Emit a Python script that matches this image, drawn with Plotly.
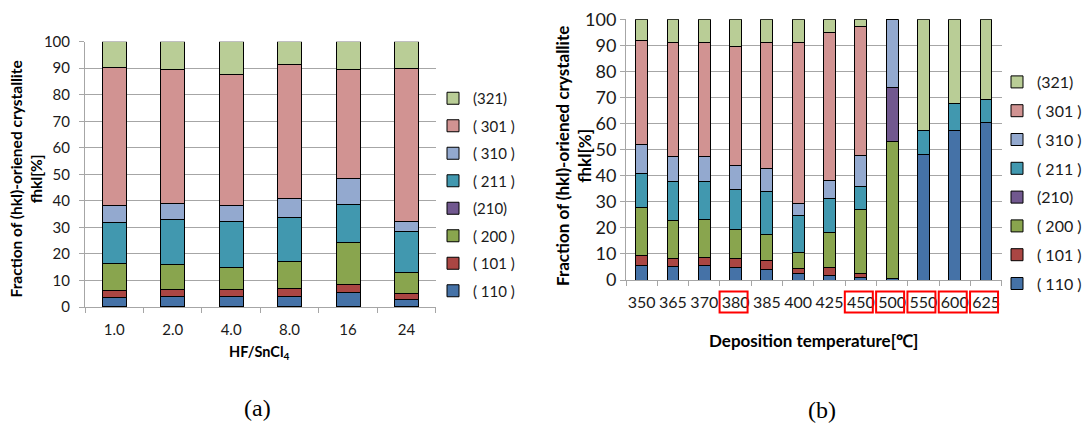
import plotly.graph_objects as go

# ---- data -------------------------------------------------------------
series_names = ["( 110 )", "( 101 )", "( 200 )", "(210)", "( 211 )", "( 310 )", "( 301 )", "(321)"]
series_colors = ["#4572A7", "#AA4643", "#89A54E", "#71588F", "#4198AF", "#93A9CF", "#D19392", "#B9CD96"]

# (a) fraction vs HF/SnCl4 ratio
ratio_labels = ["1.0", "2.0", "4.0", "8.0", "16", "24"]
a_110 = [3.5, 3.9, 3.9, 3.9, 5.4, 2.8]
a_101 = [2.8, 2.8, 2.8, 3.0, 3.2, 2.2]
a_200 = [10.1, 9.3, 8.3, 10.3, 15.6, 8.0]
a_210 = [0, 0, 0, 0, 0, 0]
a_211 = [15.4, 17.0, 17.3, 16.4, 14.4, 15.3]
a_310 = [6.6, 6.0, 6.1, 7.3, 9.8, 3.8]
a_301 = [51.9, 50.6, 49.3, 50.5, 41.3, 57.8]
a_321 = [9.7, 10.4, 12.3, 8.6, 10.3, 10.1]

# (b) fraction vs deposition temperature
temp_labels = ["350", "365", "370", "380", "385", "400", "425", "450", "500", "550", "600", "625"]
b_110 = [5.5, 5.1, 5.5, 4.7, 4.2, 2.4, 1.8, 1.0, 0.5, 48.3, 57.3, 60.5]
b_101 = [3.8, 3.2, 3.2, 3.4, 3.3, 2.2, 2.9, 1.6, 0, 0, 0, 0]
b_200 = [18.6, 14.7, 14.6, 11.3, 10.1, 5.9, 13.5, 24.6, 52.8, 0, 0, 0]
b_210 = [0, 0, 0, 0, 0, 0, 0, 0, 20.6, 0, 0, 0]
b_211 = [13.0, 14.7, 14.4, 15.4, 16.4, 14.4, 13.1, 8.6, 0, 8.9, 10.5, 8.6]
b_310 = [11.1, 9.5, 9.5, 9.2, 8.8, 4.5, 6.7, 11.8, 26.1, 0, 0, 0]
b_301 = [39.7, 43.8, 43.8, 45.5, 48.2, 61.8, 57.0, 49.6, 0, 0, 0, 0]
b_321 = [8.3, 9.0, 9.0, 10.5, 9.0, 8.8, 5.0, 2.8, 0, 42.8, 32.2, 30.9]

highlighted_temps = ["380", "450", "500", "550", "600", "625"]

a_series = [a_110, a_101, a_200, a_210, a_211, a_310, a_301, a_321]
b_series = [b_110, b_101, b_200, b_210, b_211, b_310, b_301, b_321]

FONT = "Lato, 'Open Sans', sans-serif"
GRID = "#A6A6A6"
W, H = 1084, 430
n_series = len(series_names)

# plot-area boxes in pixels (left, right, top, bottom)
A_BOX = (85, 435.7, 41.7, 307)
B_BOX = (626, 1001.7, 19.3, 280)

fig = go.Figure()

for i, (name, color) in enumerate(zip(series_names, series_colors)):
    fig.add_trace(go.Bar(
        x=ratio_labels, y=a_series[i], name=name, width=0.41,
        marker=dict(color=color, line=dict(color="#000000", width=1)),
        xaxis="x", yaxis="y", legend="legend", legendgroup="a" + str(i),
        legendrank=n_series - i,
    ))
for i, (name, color) in enumerate(zip(series_names, series_colors)):
    fig.add_trace(go.Bar(
        x=temp_labels, y=b_series[i], name=name, width=0.38,
        marker=dict(color=color, line=dict(color="#000000", width=1)),
        xaxis="x2", yaxis="y2", legend="legend2", legendgroup="b" + str(i),
        legendrank=n_series - i,
    ))

def px_x(p):
    return p / W

def px_y(p):
    return 1 - p / H

common_x = dict(type="category", showgrid=False, showline=True, linecolor=GRID, linewidth=1,
                ticks="outside", tickson="boundaries", ticklen=5, tickcolor=GRID, tickangle=0)
common_y = dict(range=[0, 100], dtick=10, showgrid=True, gridcolor=GRID, gridwidth=1,
                showline=True, linecolor=GRID, linewidth=1, ticks="outside", ticklen=5,
                tickcolor=GRID, zeroline=False)

fig.update_layout(
    width=W, height=H,
    margin=dict(l=0, r=0, t=0, b=0, autoexpand=False),
    paper_bgcolor="white", plot_bgcolor="white",
    barmode="stack",
    xaxis=dict(common_x, domain=[px_x(A_BOX[0]), px_x(A_BOX[1])], anchor="y",
               range=[-0.5, len(ratio_labels) - 0.5],
               tickfont=dict(family=FONT, size=15, color="#1a1a1a"), ticklabelstandoff=9),
    yaxis=dict(common_y, domain=[px_y(A_BOX[3]), px_y(A_BOX[2])], anchor="x",
               tickfont=dict(family=FONT, size=15, color="#1a1a1a"), ticklabelstandoff=6),
    xaxis2=dict(common_x, domain=[px_x(B_BOX[0]), px_x(B_BOX[1])], anchor="y2",
                range=[-0.5, len(temp_labels) - 0.5],
                tickfont=dict(family=FONT, size=16, color="#1a1a1a"), ticklabelstandoff=8),
    yaxis2=dict(common_y, domain=[px_y(B_BOX[3]), px_y(B_BOX[2])], anchor="x2",
                tickfont=dict(family=FONT, size=18, color="#1a1a1a"), ticklabelstandoff=0),
    legend=dict(x=px_x(433), y=px_y(82), xanchor="left", yanchor="top",
                traceorder="grouped", tracegroupgap=5, bgcolor="rgba(0,0,0,0)",
                font=dict(family=FONT, size=15, color="#1a1a1a")),
    legend2=dict(x=px_x(997), y=px_y(65), xanchor="left", yanchor="top",
                 traceorder="grouped", tracegroupgap=5, bgcolor="rgba(0,0,0,0)",
                 font=dict(family=FONT, size=16, color="#1a1a1a")),
)

annotations = [
    # y-axis titles
    dict(text="<b>Fraction of (hkl)-oriened crystallite<br>fhkl[%]</b>", textangle=-90,
         x=px_x(25.5), y=px_y(179), font=dict(family=FONT, size=15.5, color="#000")),
    dict(text="<b>Fraction of (hkl)-oriened crystallite<br>fhkl[%]</b>", textangle=-90,
         x=px_x(573), y=px_y(156), font=dict(family=FONT, size=17, color="#000")),
    # x-axis titles
    dict(text="<b>HF/SnCl<sub>4</sub></b>", x=px_x(259), y=px_y(352),
         font=dict(family=FONT, size=14.5, color="#000")),
    dict(text="<b>Deposition temperature[℃]</b>", x=px_x(813), y=px_y(340),
         font=dict(family=FONT, size=17, color="#000")),
    # panel captions
    dict(text="(a)", x=px_x(257), y=px_y(408),
         font=dict(family="'Liberation Serif', serif", size=24, color="#000")),
    dict(text="(b)", x=px_x(822), y=px_y(410),
         font=dict(family="'Liberation Serif', serif", size=24, color="#000")),
]
for a in annotations:
    a.update(xref="paper", yref="paper", showarrow=False, xanchor="center", yanchor="middle")
fig.update_layout(annotations=annotations)

# red frames around selected temperature labels, placed on the category slots
b_width_px = B_BOX[1] - B_BOX[0]
half_w, half_h, box_cy, nudge = 14, 10.5, 302, -2
for t in highlighted_temps:
    centre = (temp_labels.index(t) + 0.5) / len(temp_labels)
    fig.add_shape(
        type="rect", xref="x2 domain", yref="paper",
        x0=centre + (nudge - half_w) / b_width_px, x1=centre + (nudge + half_w) / b_width_px,
        y0=px_y(box_cy + half_h), y1=px_y(box_cy - half_h),
        line=dict(color="#FF0000", width=2), fillcolor="rgba(0,0,0,0)",
    )

fig.write_html("out.html")
